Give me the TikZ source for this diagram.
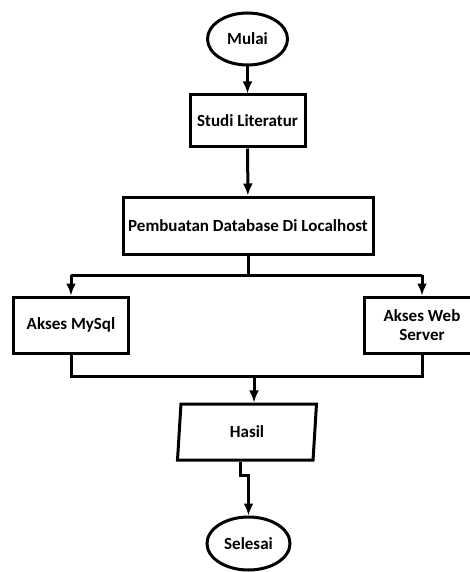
\documentclass[tikz,border=0pt]{standalone}
\usepackage{fontspec}
\setmainfont{Carlito}
\usetikzlibrary{shapes.geometric, arrows.meta}
\tikzset{>={Latex[length=12pt, width=10pt]}}
\tikzset{
  terminal/.style = {draw, ellipse, line width=3pt, inner sep=0pt, font=\bfseries\fontsize{17}{19.5}\selectfont},
  proses/.style = {draw, rectangle, line width=3pt, inner sep=0pt, align=center, font=\bfseries\fontsize{17}{19.5}\selectfont},
  io/.style = {draw, trapezium, trapezium left angle=74, trapezium right angle=106, trapezium stretches body, line width=3pt, inner sep=0pt, font=\bfseries\fontsize{17}{19.5}\selectfont},
  garis/.style = {line width=3pt}
}

\begin{document}
\begin{tikzpicture}[x=1pt, y=-1pt]
    \useasboundingbox (0,0) rectangle (470,572);
    \node [terminal, minimum width=80, minimum height=52] (mulai) at (247.5,39) {Mulai};
    \node [proses, minimum width=115, minimum height=52] (studi) at (247.5,121) {Studi Literatur};
    \node [proses, minimum width=250, minimum height=57] (db) at (248,225.5) {Pembuatan Database Di Localhost};
    \node [proses, minimum width=115, minimum height=56] (mysql) at (71,325) {Akses MySql};
    \node [proses, minimum width=116, minimum height=56] (web) at (422,325) {Akses Web\\Server};
    \node [io, minimum width=139, minimum height=56] (hasil) at (247,432) {Hasil};
    \node [terminal, minimum width=83, minimum height=53] (selesai) at (248.5,543.5) {Selesai};

    \coordinate (pisahL) at (71,275);
    \coordinate (pisahR) at (422,275);
    \coordinate (gabungR) at (422,376);
    \coordinate (gabungM) at (254,376);
    \coordinate (belok) at (240,475);

    \draw [->, garis] (mulai) -- (studi);
    \draw [->, garis] (studi) -- (db);
    \draw [garis] (db) -- (db |- pisahL);
    \draw [garis] (pisahL) -- (pisahR);
    \draw [->, garis] (pisahL) -- (mysql);
    \draw [->, garis] (pisahR) -- (web);
    \draw [garis] (mysql) |- (gabungR) -- (web);
    \draw [->, garis] (gabungM) -- (gabungM |- hasil.north);
    \draw [->, garis] (hasil.south -| belok) -- (belok) -| (selesai.north);
\end{tikzpicture}
\end{document}
